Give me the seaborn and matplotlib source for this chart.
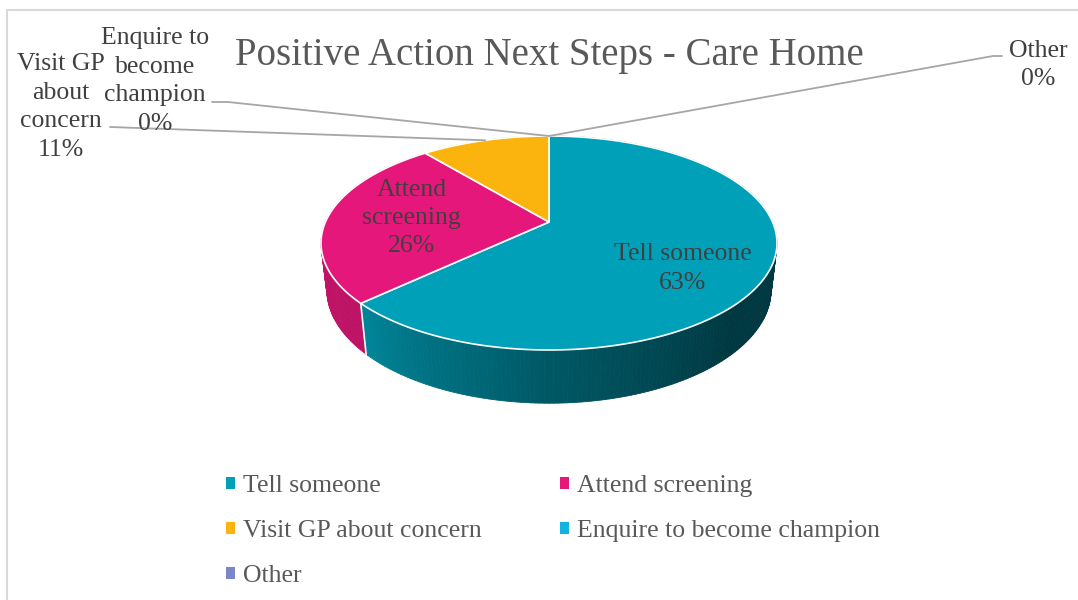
import numpy as np
import matplotlib
matplotlib.use("Agg")
import matplotlib.pyplot as plt
import matplotlib.colors as mcolors
from matplotlib.patches import Polygon, Patch
import seaborn as sns

sns.set_style("white")
plt.rcParams['font.family'] = ['Liberation Serif', 'DejaVu Serif']

# data
categories = ["Tell someone", "Attend screening", "Visit GP about concern",
              "Enquire to become champion", "Other"]
shares = [63, 26, 11, 0, 0]
wrapped = ["Tell someone", "Attend\nscreening", "Visit GP\nabout\nconcern",
           "Enquire to\nbecome\nchampion", "Other"]
palette = sns.color_palette(["#00A0B8", "#E6177A", "#FBB30D", "#11B3E2", "#7A86C8"])
title = "Positive Action Next Steps - Care Home"

# 3d look of the pie (pixel box of the top face)
tilt = np.radians(28)
dist = 4.5
depth = 0.245
box = (321, 777, 136, 350)


def raw(r, phi, y):
    X = r * np.cos(phi)
    Z = r * np.sin(phi)
    yc = y * np.cos(tilt) + Z * np.sin(tilt)
    zc = dist + Z * np.cos(tilt) - y * np.sin(tilt)
    return X / zc, yc / zc


ring = np.linspace(0, 2 * np.pi, 721)
rx, ry = raw(1, ring, 0)
sx = (box[1] - box[0]) / (rx.max() - rx.min())
sy = (box[3] - box[2]) / (ry.max() - ry.min())


def proj(r, phi, y=0.0):
    a, b = raw(r, phi, y)
    return box[0] + (a - rx.min()) * sx, box[2] + (ry.max() - b) * sy


def shade(phi_deg):
    p = phi_deg % 360
    return np.interp(p, [0, 90, 90.01, 180, 225, 270, 315, 360],
                     [0.35, 0.35, 0.85, 0.85, 0.82, 0.55, 0.35, 0.36])


fig = plt.figure(figsize=(10.78, 6), dpi=100)
ax = fig.add_axes([0, 0, 1, 1])
ax.set_xlim(0, 1078)
ax.set_ylim(600, 0)
ax.axis("off")

# chart border
ax.plot([7, 7, 1078], [600, 10, 10], color="#d9d9d9", lw=1.5, zorder=0)

total = float(sum(shares))
starts = np.concatenate([[0], np.cumsum(shares)[:-1]]) / total * 360
ends = np.cumsum(shares) / total * 360

# side wall
for i, v in enumerate(shares):
    if v == 0:
        continue
    base = np.array(mcolors.to_rgb(palette[i]))
    steps = np.arange(starts[i], ends[i], 1.0)
    steps = np.append(steps, ends[i])
    for a0, a1 in zip(steps[:-1], steps[1:]):
        p0, p1 = np.radians(90 - a0), np.radians(90 - a1)
        x0, y0 = proj(1, p0)
        x1, y1 = proj(1, p1)
        x2, y2 = proj(1, p1, -depth)
        x3, y3 = proj(1, p0, -depth)
        c = np.clip(base * shade(90 - (a0 + a1) / 2), 0, 1)
        ax.add_patch(Polygon([(x0, y0), (x1, y1), (x2, y2), (x3, y3)],
                             closed=True, fc=c, ec=c, lw=0.6, zorder=2))

# white seams on the side
for i, v in enumerate(shares):
    if v == 0 or ends[i] >= 360:
        continue
    p = np.radians(90 - ends[i])
    if np.sin(p) < 0:
        xa, ya = proj(1, p)
        xb, yb = proj(1, p, -depth)
        ax.plot([xa, xb], [ya, yb], color="white", lw=1.2, zorder=3)

# top face
for i, v in enumerate(shares):
    if v == 0:
        continue
    angs = np.radians(90 - np.linspace(starts[i], ends[i], 200))
    xs, ys = proj(1, angs)
    cx, cy = proj(0, 0.0)
    pts = [(cx, cy)] + list(zip(xs, ys))
    ax.add_patch(Polygon(pts, closed=True, fc=palette[i], ec="white", lw=1.2, zorder=4))

# labels inside the pie
nudge = {0: 20, 1: 0}
for i in [0, 1]:
    mid = np.radians(90 - (starts[i] + ends[i]) / 2)
    lx, ly = proj(0.62, mid)
    ax.text(lx, ly + nudge[i], f"{wrapped[i]}\n{shares[i]}%", ha="center", va="center",
            fontsize=18.5, color="#404040", linespacing=1.38, zorder=6)

# labels with leader lines
outside = {2: (61, 107, [(110, 127)]),
           3: (155, 81, [(212, 102), (228, 102)]),
           4: (1038, 65, [(1002, 56), (993, 56)])}
for i, (tx, ty, path) in outside.items():
    mid = np.radians(90 - (starts[i] + ends[i]) / 2)
    px, py = proj(1, mid)
    xs = [p[0] for p in path] + [px]
    ys = [p[1] for p in path] + [py]
    ax.plot(xs, ys, color="#a6a6a6", lw=1.3, zorder=5)
    ax.text(tx, ty, f"{wrapped[i]}\n{shares[i]}%", ha="center", va="center",
            fontsize=18.5, color="#404040", linespacing=1.38, zorder=6)

ax.text(549, 55, title, ha="center", va="center", fontsize=28, color="#595959")

# legend, filled row by row
order = [0, 2, 4, 1, 3]
handles = [Patch(fc=palette[k], ec="none") for k in order]
fig.legend(handles, [categories[k] for k in order], ncol=2,
           loc="upper left", bbox_to_anchor=(203 / 1078, 1 - 452 / 600),
           frameon=False, fontsize=18.5, handlelength=0.35, handleheight=0.35,
           handletextpad=0.3, columnspacing=3.05, labelspacing=0.9,
           labelcolor="#595959")

fig.savefig("out.png", dpi=100)
